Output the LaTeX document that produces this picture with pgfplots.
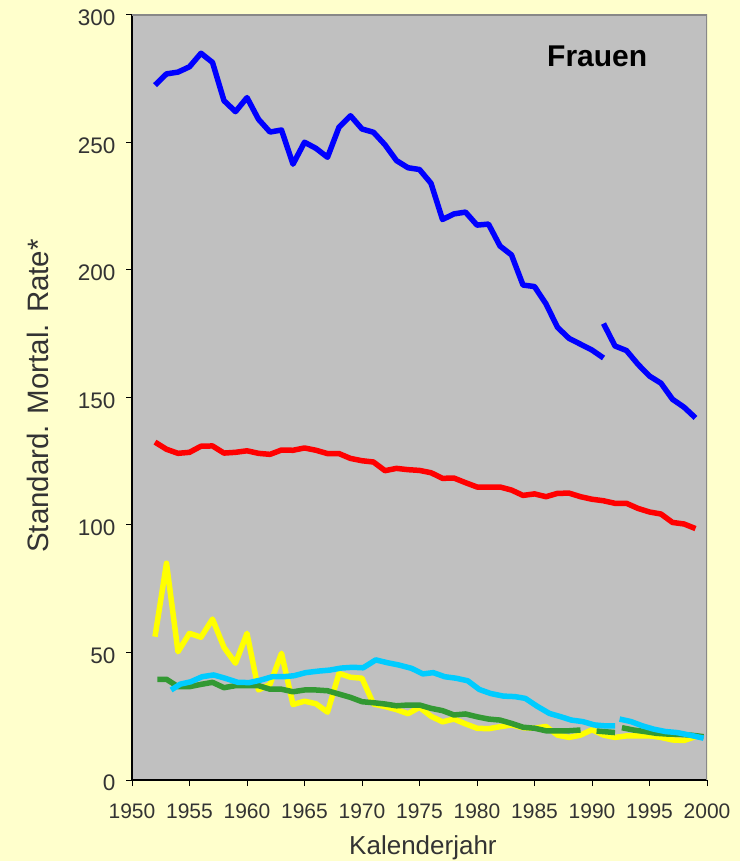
\documentclass[border=0pt]{standalone}
\usepackage{fontspec}
\setmainfont{Liberation Sans}
\usepackage{pgfplots}
\pgfplotsset{compat=1.18}
\definecolor{bgyellow}{HTML}{FFFFCC}
\definecolor{plotgray}{HTML}{C0C0C0}
\definecolor{sblue}{HTML}{0000FF}
\definecolor{sred}{HTML}{FF0000}
\definecolor{syellow}{HTML}{FFFF00}
\definecolor{scyan}{HTML}{00CCFF}
\definecolor{sgreen}{HTML}{339933}
\definecolor{txt}{HTML}{333333}
\definecolor{frame}{HTML}{888888}
\begin{document}
\begin{tikzpicture}
\fill[bgyellow] (0,0) rectangle (740pt,861pt);
\useasboundingbox (0,0) rectangle (740pt,861pt);
\begin{axis}[
 at={(132pt,81pt)}, anchor=south west,
 scale only axis, width=575pt, height=765pt,
 xmin=1950, xmax=2000, ymin=0, ymax=300,
 axis background/.style={fill=plotgray},
 axis x line*=bottom, axis y line*=left,
 axis line style={black, line width=1.2pt},
 xtick={1950,1955,...,2000}, ytick={0,50,...,300},
 tick align=outside, major tick length=6pt,
 tick style={black, line width=1pt},
 /pgf/number format/assume math mode=true,
 /pgf/number format/1000 sep={},
 xticklabel style={font=\fontsize{21}{21}\selectfont, text=txt, yshift=-14pt},
 yticklabel style={font=\fontsize{22.5}{22.5}\selectfont, text=txt, xshift=-7pt, yshift=-3pt},
 xlabel={Kalenderjahr}, ylabel={Standard. Mortal. Rate*},
 xlabel style={font=\fontsize{26}{26}\selectfont, text=txt, at={(axis description cs:0.506,-0.098)}, anchor=base},
 ylabel style={font=\fontsize{29.5}{29.5}\selectfont, text=txt, at={(axis description cs:-0.146,0.502)}, anchor=base},
 every axis plot/.append style={line width=5.5pt, line join=round, mark=none},
]
\draw[frame, line width=1.5pt] (rel axis cs:0,1) -- (rel axis cs:1,1) -- (rel axis cs:1,0);
% blue, segment 1
\addplot[sblue] coordinates {
(1952,272.5)(1953,276.9)(1954,277.6)(1955,279.7)(1956,285.0)(1957,281.4)(1958,266.4)(1959,262.1)
(1960,267.6)(1961,259.1)(1962,254.1)(1963,254.9)(1964,241.5)(1965,250.1)(1966,247.7)(1967,244.2)
(1968,256.0)(1969,260.5)(1970,255.3)(1971,254.0)(1972,249.1)(1973,242.9)(1974,240.1)(1975,239.4)
(1976,234.0)(1977,219.8)(1978,222.0)(1979,222.7)(1980,217.6)(1981,218.0)(1982,209.4)(1983,205.9)
(1984,194.1)(1985,193.5)(1986,186.7)(1987,177.5)(1988,173.2)(1989,170.9)(1990,168.6)(1991,165.5)
};
% blue, segment 2
\addplot[sblue] coordinates {
(1991,179.0)(1992,170.2)(1993,168.4)(1994,163.0)(1995,158.4)(1996,155.6)(1997,149.3)(1998,146.2)(1999,142.0)
};
% red
\addplot[sred] coordinates {
(1952,132.5)(1953,129.7)(1954,128.1)(1955,128.5)(1956,130.9)(1957,131.0)(1958,128.2)(1959,128.5)
(1960,129.1)(1961,128.1)(1962,127.7)(1963,129.4)(1964,129.3)(1965,130.2)(1966,129.3)(1967,128.0)
(1968,128.0)(1969,126.1)(1970,125.2)(1971,124.7)(1972,121.3)(1973,122.2)(1974,121.7)(1975,121.4)
(1976,120.5)(1977,118.3)(1978,118.4)(1979,116.6)(1980,114.9)(1981,114.9)(1982,114.9)(1983,113.7)
(1984,111.6)(1985,112.2)(1986,111.1)(1987,112.4)(1988,112.5)(1989,111.1)(1990,110.1)(1991,109.5)
(1992,108.5)(1993,108.5)(1994,106.5)(1995,105.1)(1996,104.3)(1997,101.0)(1998,100.4)(1999,98.6)
};
% yellow
\addplot[syellow] coordinates {
(1952,56.2)(1953,85.0)(1954,50.3)(1955,57.5)(1956,56.0)(1957,63.1)(1958,52.0)(1959,45.8)
(1960,57.5)(1961,35.3)(1962,37.5)(1963,49.7)(1964,29.6)(1965,30.9)(1966,29.9)(1967,26.6)
(1968,41.8)(1969,40.3)(1970,39.9)(1971,29.8)(1972,28.8)(1973,27.6)(1974,26.0)(1975,28.5)
(1976,25.0)(1977,22.8)(1978,23.9)(1979,22.0)(1980,20.3)(1981,20.1)(1982,20.9)(1983,21.6)
(1984,20.5)(1985,20.3)(1986,21.0)(1987,17.6)(1988,16.7)(1989,17.6)(1990,19.7)(1991,17.6)
(1992,16.7)(1993,17.3)(1994,17.3)(1995,17.3)(1996,16.7)(1997,15.7)(1998,15.5)(1999,17.0)
};
% green, segment 1
\addplot[sgreen] coordinates {
(1952.2,39.5)(1953,39.5)(1954,36.6)(1955,36.6)(1956,37.5)(1957,38.3)(1958,36.2)(1959,37.0)
(1960,37.0)(1961,37.0)(1962,35.6)(1963,35.6)(1964,34.6)(1965,35.3)(1966,35.3)(1967,35.0)
(1968,33.7)(1969,32.4)(1970,30.7)(1971,30.3)(1972,29.8)(1973,29.1)(1974,29.4)(1975,29.4)
(1976,28.1)(1977,27.2)(1978,25.5)(1979,25.9)(1980,24.8)(1981,23.9)(1982,23.5)(1983,22.2)
(1984,20.7)(1985,20.3)(1986,19.3)(1987,19.3)(1988,19.3)(1989,19.6)
};
% green, segment 2
\addplot[sgreen] coordinates {
(1990.4,19.2)(1991.2,18.9)(1992.0,18.6)
};
% green, segment 3
\addplot[sgreen] coordinates {
(1992.6,20.5)(1993.6,19.6)(1994.6,19.0)(1995.6,18.3)(1996.6,18.0)(1997.6,17.9)(1998.6,17.6)(1999.7,17.0)
};
% cyan, segment 1
\addplot[scyan] coordinates {
(1953.4,35.3)(1954.2,37.6)(1955.1,38.5)(1956.1,40.5)(1957.1,41.2)(1958.1,39.9)(1959.2,38.3)(1960.2,38.2)
(1961.2,39.2)(1962.2,40.5)(1963.2,40.5)(1964.1,40.9)(1965.1,42.1)(1966.2,42.7)(1967.2,43.1)(1968.2,43.9)
(1969.2,44.2)(1970.1,44.0)(1971.2,47.1)(1972.2,46.0)(1973.2,45.1)(1974.3,43.8)(1975.3,41.6)(1976.2,42.1)
(1977.2,40.5)(1978.2,39.9)(1979.2,38.9)(1980.2,35.5)(1981.2,33.9)(1982.3,32.9)(1983.3,32.7)(1984.2,32.0)
(1985.2,29.0)(1986.3,26.1)(1987.3,24.8)(1988.2,23.5)(1989.2,22.9)(1990.2,21.6)(1991.2,21.2)(1992.0,21.2)
};
% cyan, segment 2
\addplot[scyan] coordinates {
(1992.4,23.9)(1993.4,22.9)(1994.4,21.2)(1995.4,19.9)(1996.4,19.0)(1997.4,18.6)(1998.5,17.6)(1999.7,16.4)
};
\node[anchor=base west, inner sep=0pt, font=\fontsize{30}{30}\selectfont\bfseries] at (rel axis cs:0.7217,0.9324) {Frauen};
\end{axis}
\end{tikzpicture}
\end{document}
